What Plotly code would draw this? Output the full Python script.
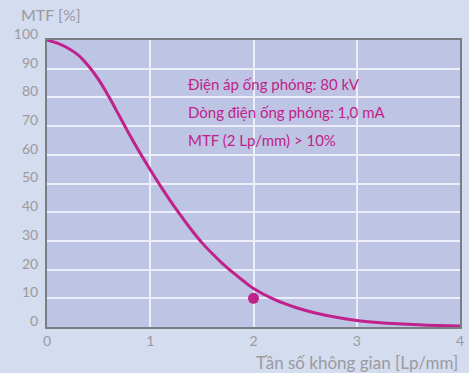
import plotly.graph_objects as go

# MTF curve (spatial frequency in Lp/mm, MTF in %)
freq = [0, 0.1, 0.2, 0.3, 0.4, 0.5, 0.6, 0.7, 0.8, 0.9, 1.0, 1.1, 1.2, 1.3, 1.4,
        1.5, 1.6, 1.7, 1.8, 1.9, 2.0, 2.2, 2.4, 2.6, 2.8, 3.0, 3.2, 3.4, 3.6, 3.8, 4.0]
mtf = [100, 98.9, 97.2, 94.8, 91.0, 86.2, 80.2, 73.6, 67.0, 60.7, 54.8, 49.1, 43.7,
       38.6, 33.8, 29.4, 25.6, 22.1, 19.0, 16.1, 13.4, 9.6, 6.9, 4.9, 3.4, 2.3,
       1.6, 1.1, 0.75, 0.5, 0.35]

# Specification point: MTF at 2 Lp/mm
spec_x = [2]
spec_y = [10]

info_lines = [
    "Điện áp ống phóng: 80 kV",
    "Dòng điện ống phóng: 1,0 mA",
    "MTF (2 Lp/mm) > 10%",
]
x_ticks = [0, 1, 2, 3, 4]
y_ticks = [0, 10, 20, 30, 40, 50, 60, 70, 80, 90, 100]

MAGENTA = "#c0228b"
GRAY = "#9a9a9f"
FONT = "Lato, 'Open Sans', sans-serif"

fig = go.Figure()
fig.add_trace(go.Scatter(
    x=freq, y=mtf, mode="lines",
    line=dict(color=MAGENTA, width=3, shape="spline", smoothing=1.0),
    hoverinfo="skip", showlegend=False,
))
fig.add_trace(go.Scatter(
    x=spec_x, y=spec_y, mode="markers",
    marker=dict(color=MAGENTA, size=11),
    hoverinfo="skip", showlegend=False,
))

for i, txt in enumerate(info_lines):
    fig.add_annotation(
        x=1.35, y=84.5 - i * 9.6, xref="x", yref="y", text=txt,
        showarrow=False, xanchor="left", yanchor="middle",
        font=dict(family=FONT, size=15, color=MAGENTA),
    )

fig.add_annotation(
    x=-0.067, y=1.09, xref="paper", yref="paper", text="MTF [%]",
    showarrow=False, xanchor="left", yanchor="middle",
    font=dict(family=FONT, size=16, color=GRAY),
)
fig.add_annotation(
    x=1.0, y=-0.122, xref="paper", yref="paper", text="Tần số không gian [Lp/mm]",
    showarrow=False, xanchor="right", yanchor="middle",
    font=dict(family=FONT, size=17, color=GRAY),
)

axis_common = dict(
    showline=True, linecolor="#7c7c84", linewidth=2, mirror=True,
    showgrid=True, gridcolor="#eceff9", gridwidth=1.5,
    zeroline=False, ticks="",
    tickfont=dict(family=FONT, size=14, color=GRAY),
)
fig.update_xaxes(range=[0, 4], tickvals=x_ticks, ticklabelstandoff=0, **axis_common)
fig.update_yaxes(range=[0, 100], tickvals=y_ticks, ticklabelshift=-6,
                 ticklabelstandoff=4, **axis_common)

fig.update_layout(
    width=469, height=373,
    margin=dict(l=47, r=5, t=40, b=46),
    paper_bgcolor="#d4dcef",
    plot_bgcolor="#bec4e3",
    font=dict(family=FONT),
)

fig.write_html("out.html")
